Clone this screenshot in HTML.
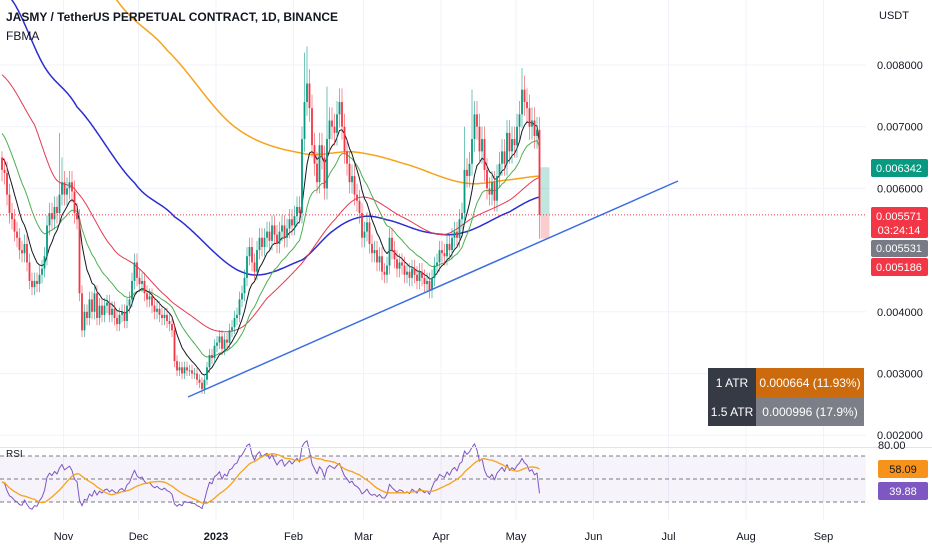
<!DOCTYPE html>
<html><head><meta charset="utf-8"><style>
body{margin:0;background:#fff;font-family:"Liberation Sans",sans-serif;}
svg{display:block}
</style></head><body>
<svg id="c" width="932" height="550" xmlns="http://www.w3.org/2000/svg">
<g id="grid"></g>
<rect x="0" y="456" width="866" height="46" fill="#7e57c2" fill-opacity="0.07"/>
<g id="plot"></g>
<text x="6" y="21" font-size="12" fill="#131722" font-weight="bold">JASMY / TetherUS PERPETUAL CONTRACT, 1D, BINANCE</text>
<text x="6" y="40" font-size="12" fill="#131722">FBMA</text>
<text x="879" y="19" font-size="11" fill="#131722">USDT</text>
<line x1="0" y1="447.5" x2="932" y2="447.5" stroke="#e0e3eb"/>
<text x="6" y="457" font-size="10" fill="#131722">RSI</text>
<g>
<rect x="708" y="368" width="48" height="29" fill="#363a45"/><rect x="756" y="368" width="108" height="29" fill="#cc6b0d"/>
<rect x="708" y="397" width="48" height="29" fill="#363a45"/><rect x="756" y="397" width="108" height="29" fill="#7c7f88"/>
<text x="732" y="387" font-size="12" fill="#fff" text-anchor="middle">1 ATR</text>
<text x="810" y="387" font-size="12" fill="#fff" text-anchor="middle">0.000664 (11.93%)</text>
<text x="732" y="416" font-size="12" fill="#fff" text-anchor="middle">1.5 ATR</text>
<text x="810" y="416" font-size="12" fill="#fff" text-anchor="middle">0.000996 (17.9%)</text>
</g>
<g font-size="11">
<rect x="871" y="159" width="57" height="18" rx="2" fill="#089981"/><text x="899" y="172" fill="#fff" text-anchor="middle">0.006342</text>
<rect x="871" y="207" width="57" height="31" rx="2" fill="#f23645"/><text x="899" y="220" fill="#fff" text-anchor="middle">0.005571</text><text x="899" y="234" fill="#fff" text-anchor="middle">03:24:14</text>
<rect x="871" y="240" width="57" height="17" rx="2" fill="#787b86"/><text x="899" y="252" fill="#fff" text-anchor="middle">0.005531</text>
<rect x="871" y="258" width="57" height="18" rx="2" fill="#f23645"/><text x="899" y="271" fill="#fff" text-anchor="middle">0.005186</text>
<rect x="878" y="460" width="50" height="18" rx="2" fill="#f7931a"/><text x="903" y="473" fill="#131722" text-anchor="middle">58.09</text>
<rect x="878" y="482" width="50" height="18" rx="2" fill="#7e57c2"/><text x="903" y="495" fill="#fff" text-anchor="middle">39.88</text>
<text x="878" y="449" fill="#131722">80.00</text>
</g>
</svg>
<script>
// closes in milli-USDT (x0.001), daily from ~Oct 7 2022
const closes=[6.3,6.25,5.9,5.6,5.5,5.3,5.2,5.0,4.95,5.1,4.8,4.5,4.4,4.5,4.45,4.6,4.7,4.9,5.4,5.6,
5.5,5.7,5.6,5.9,6.1,5.9,6.0,6.1,5.95,5.6,5.5,4.3,3.7,4.0,3.9,4.2,4.0,4.3,3.9,4.1,
3.95,4.1,4.15,3.95,4.05,3.9,3.8,3.95,4.0,3.85,4.1,4.2,4.5,4.8,4.55,4.45,4.5,4.3,4.2,4.25,
4.1,4.0,4.05,3.95,3.9,3.95,3.85,3.8,3.7,3.2,3.05,3.1,3.0,3.1,3.05,3.05,3.0,3.0,2.9,2.85,
2.75,2.9,3.1,3.3,3.25,3.45,3.5,3.6,3.4,3.55,3.5,3.7,3.75,3.9,3.95,4.2,4.3,4.55,4.9,5.05,
4.8,4.65,5.0,5.2,5.05,5.2,5.3,5.15,5.4,5.25,5.1,5.3,5.4,5.2,5.35,5.5,5.4,5.55,5.7,5.6,
6.8,7.4,7.7,7.3,6.7,6.4,6.1,6.7,6.5,6.0,6.8,7.1,7.0,6.9,7.2,7.4,7.0,6.6,6.4,6.1,
6.2,5.9,5.8,5.6,5.2,5.3,5.45,5.1,4.95,5.0,4.8,4.9,4.65,4.6,4.75,5.2,5.0,4.85,4.7,4.8,
4.75,4.6,4.65,4.55,4.7,4.6,4.5,4.65,4.55,4.45,4.5,4.35,4.55,4.75,4.8,5.0,4.95,4.9,5.1,5.0,
5.2,5.3,5.2,5.5,5.6,6.3,6.2,6.4,6.8,7.2,7.0,6.6,6.8,6.3,6.0,5.9,6.1,5.8,6.2,6.4,
6.6,6.4,6.9,6.6,6.8,6.7,7.0,7.2,7.6,7.4,7.3,7.0,7.1,6.85,6.95,5.571];
const firstOpen=6.5;
const spikeIdx=[0,23,24,121,122,130,185,188,208,215];
const spikeVal=[6.6,6.9,6.5,8.2,8.3,7.65,7.0,7.6,7.95,5.186];
const redIdx=[0,13,21,30,44,54,66,74,85,96,106,120,133,144,160,176,189,203,215];
const redVal=[7.84,7.03,6.18,5.94,5.05,4.73,4.24,3.98,3.70,3.75,4.22,4.79,5.49,5.86,5.54,5.25,5.54,5.81,6.18];
const blueIdx=[0,4,17,30,53,69,97,120,133,144,154,170,184,203,215];
const blueVal=[9.4,9.05,7.97,7.32,6.09,5.54,4.63,4.84,5.33,5.54,5.49,5.29,5.28,5.62,5.86];
const orangeIdx=[0,46,66,93,120,141,160,185,203,215];
const orangeVal=[10.6,9.05,8.24,7.0,6.57,6.59,6.41,6.09,6.14,6.2];
const priceTicks=[8,7,6,4,3,2];
const priceTickLabels=["0.008000","0.007000","0.006000","0.004000","0.003000","0.002000"];
const monthDays=[-61,-31,0,31,59,90,120,151,181,212,243];
const monthLabels=["Nov","Dec","2023","Feb","Mar","Apr","May","Jun","Jul","Aug","Sep"];
const rsiLevels=[70,50,30];

const X=i=>216+(i-86)*2.5+1;
const XD=d=>216+d*2.5;
const Y=p=>65+(8-p)*61.7;
const RY=r=>479-(r-50)*1.15;
const NS="http://www.w3.org/2000/svg";
function mk(t,a,parent){const e=document.createElementNS(NS,t);for(const k in a)e.setAttribute(k,a[k]);parent.appendChild(e);return e;}
const grid=document.getElementById('grid'),plot=document.getElementById('plot'),svg=document.getElementById('c');
priceTicks.forEach((p,k)=>{
 const l=mk('line',{x1:0,x2:866,y1:Y(p),y2:Y(p),stroke:'#f0f3fa'},grid);
 
 
 const t=mk('text',{x:877,y:Y(p)+4,'font-size':11,fill:'#131722'},svg);
 t.textContent=priceTickLabels[k];
 
 
});
monthDays.forEach((d,k)=>{
 const l=mk('line',{x1:XD(d),x2:XD(d),y1:0,y2:520,stroke:'#f0f3fa'},grid);
 
 
 const t=mk('text',{x:XD(d),y:540,'font-size':11,fill:'#131722','text-anchor':'middle','font-weight':monthLabels[k]==='2023'?'bold':'normal'},svg);
 t.textContent=monthLabels[k];
 
 
});
rsiLevels.forEach(r=>{
 const l=mk('line',{x1:0,x2:866,y1:RY(r),y2:RY(r),stroke:'#787b86','stroke-dasharray':'4 3'},plot);
 
 
});
function poly(pts,color,w,name){const e=mk('polyline',{points:pts.map(p=>p[0].toFixed(1)+','+p[1].toFixed(1)).join(' '),fill:'none',stroke:color,'stroke-width':w,'stroke-linejoin':'round'},plot);
 
 }
// smooth (Catmull-Rom) through sampled MA points
function sampled(idx,val){const pts=[];
 for(let k=0;k<idx.length-1;k++){
  const p0=val[Math.max(0,k-1)],p1=val[k],p2=val[k+1],p3=val[Math.min(val.length-1,k+2)];
  const steps=(idx[k+1]-idx[k])*2;
  for(let s=0;s<steps;s++){const t=s/steps;const t2=t*t,t3=t2*t;
   const v=0.5*((2*p1)+(-p0+p2)*t+(2*p0-5*p1+4*p2-p3)*t2+(-p0+3*p1-3*p2+p3)*t3);
   pts.push([X(idx[k]+t*(idx[k+1]-idx[k])),Y(v)]);}
 }
 pts.push([X(idx[idx.length-1]),Y(val[val.length-1])]);return pts;}
poly(sampled(orangeIdx,orangeVal),'#f7a21b',1.5,'ma-200-line');
poly(sampled(blueIdx,blueVal),'#2a2ed0',1.5,'ma-100-line');
poly(sampled(redIdx,redVal),'#e53950',1,'ma-50-line');
function ema(n,seed){let e=seed;return closes.map(c=>{e=e+(c-e)*2/(n+1);return e;});}
poly(ema(21,6.95).map((v,i)=>[X(i),Y(v)]),'#4caf50',1,'ema-21-line');
poly(ema(9,6.55).map((v,i)=>[X(i),Y(v)]),'#131722',1,'ema-9-line');
closes.forEach((c,i)=>{
 const o=i===0?firstOpen:closes[i-1];
 const up=c>=o;const col=up?'#089981':'#f23645';
 const k=spikeIdx.indexOf(i);
 let hi=Math.max(o,c)*1.03,lo=Math.min(o,c)*0.97;
 if(k>=0){if(spikeVal[k]>Math.max(o,c))hi=spikeVal[k];else lo=spikeVal[k];}
 const g=mk('g',{},plot);
 
 
 mk('line',{x1:X(i),x2:X(i),y1:Y(hi),y2:Y(lo),stroke:col,'stroke-opacity':0.7,'stroke-width':0.8},g);
 const top=Y(Math.max(o,c)),bot=Y(Math.min(o,c));
 mk('rect',{x:X(i)-0.9,y:top,width:1.8,height:Math.max(0.8,bot-top),fill:col},g);
});
const L=closes.length-1;
const rb=mk('rect',{x:X(L)+1,y:Y(6.342),width:9,height:Y(closes[L])-Y(6.342),fill:'#089981','fill-opacity':0.25},plot);

const rb2=mk('rect',{x:X(L)+1,y:Y(closes[L]),width:9,height:Y(5.186)-Y(closes[L]),fill:'#f23645','fill-opacity':0.25},plot);

const pl=mk('line',{x1:0,x2:866,y1:Y(closes[L]),y2:Y(closes[L]),stroke:'#f23645','stroke-dasharray':'1 2'},plot);

const tl=mk('line',{x1:188,y1:397,x2:678,y2:181,stroke:'#3d6fe0','stroke-width':1.5},plot);

let ag=0.09,al=0.1;const rsi=[];
closes.forEach((c,i)=>{const d=i?c-closes[i-1]:0;ag=(ag*13+Math.max(d,0))/14;al=(al*13+Math.max(-d,0))/14;rsi.push(100-100/(1+ag/al));});
const rsiMa=rsi.map((v,i)=>{const s=rsi.slice(Math.max(0,i-13),i+1);return s.reduce((a,b)=>a+b,0)/s.length;});
poly(rsi.map((v,i)=>[X(i),RY(v)]),'#7e57c2',1,'rsi-line');
poly(rsiMa.map((v,i)=>[X(i),RY(v)]),'#f7a21b',1.3,'rsi-ma-line');
</script>
</body></html>
